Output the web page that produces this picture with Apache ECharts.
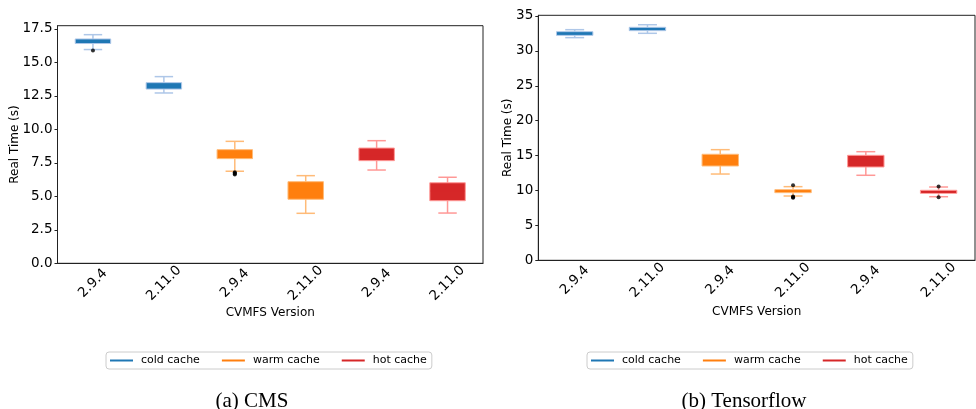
<!DOCTYPE html>
<html>
<head>
<meta charset="utf-8">
<script src="https://cdn.jsdelivr.net/npm/echarts@6/dist/echarts.min.js"></script>
<style>
html,body{margin:0;padding:0;background:#fff;}
#chart{width:976px;height:409px;}
</style>
</head>
<body>
<div id="chart"></div>
<script>
// ---- data ----
const categories = ['2.9.4', '2.11.0', '2.9.4', '2.11.0', '2.9.4', '2.11.0'];
const cacheNames = ['cold cache', 'warm cache', 'hot cache'];
const darkColors = ['#1f77b4', '#ff7f0e', '#d62728'];
const lightColors = ['#aec7e8', '#ffbb78', '#ff9896'];

// box stats: [min, Q1, median, Q3, max] for versions 2.9.4 and 2.11.0
const cmsCold = [[15.95, 16.40, 16.55, 16.74, 17.06], [12.71, 13.00, 13.20, 13.48, 13.93]];
const cmsWarm = [[6.87, 7.81, 8.15, 8.48, 9.10], [3.73, 4.78, 5.50, 6.09, 6.54]];
const cmsHot = [[6.96, 7.66, 8.10, 8.60, 9.15], [3.75, 4.67, 5.40, 6.01, 6.42]];
const cmsOutliers = [[0, 15.88], [2, 6.80], [2, 6.74], [2, 6.68], [2, 6.62]];

const tfCold = [[31.90, 32.23, 32.50, 32.75, 33.04], [32.52, 32.90, 33.10, 33.38, 33.75]];
const tfWarm = [[12.36, 13.51, 14.30, 15.19, 15.85], [9.21, 9.69, 9.90, 10.12, 10.55]];
const tfHot = [[12.18, 13.37, 14.20, 15.04, 15.56], [9.11, 9.60, 9.80, 10.03, 10.50]];
const tfOutliers = [[3, 10.75], [3, 9.15], [3, 9.05], [3, 8.95], [5, 10.58], [5, 9.02]];

const cmsTicks = [0, 2.5, 5, 7.5, 10, 12.5, 15, 17.5];
const tfTicks = [0, 5, 10, 15, 20, 25, 30, 35];
const cmsMax = 17.73;
const tfMax = 35.1;

// ---- helpers ----
function toItems(stats, offset) {
  return stats.map((s, i) => [offset + i].concat(s));
}
function renderBox(dark, light) {
  return function (params, api) {
    const x = api.value(0);
    const lo = api.coord([x, api.value(1)]);
    const q1 = api.coord([x, api.value(2)]);
    const md = api.coord([x, api.value(3)]);
    const q3 = api.coord([x, api.value(4)]);
    const hi = api.coord([x, api.value(5)]);
    const band = api.size([1, 0])[0];
    const bw = band * 0.5, cw = band * 0.26;
    const cx = lo[0];
    const ls = {stroke: light, lineWidth: 1.5};
    return {
      type: 'group',
      children: [
        {type: 'line', shape: {x1: cx, y1: lo[1], x2: cx, y2: q1[1]}, style: ls},
        {type: 'line', shape: {x1: cx, y1: q3[1], x2: cx, y2: hi[1]}, style: ls},
        {type: 'line', shape: {x1: cx - cw / 2, y1: lo[1], x2: cx + cw / 2, y2: lo[1]}, style: ls},
        {type: 'line', shape: {x1: cx - cw / 2, y1: hi[1], x2: cx + cw / 2, y2: hi[1]}, style: ls},
        {type: 'rect', shape: {x: cx - bw / 2, y: q3[1], width: bw, height: q1[1] - q3[1]},
          style: {fill: dark, stroke: light, lineWidth: 1}},
        {type: 'line', shape: {x1: cx - bw / 2 + 1, y1: md[1], x2: cx + bw / 2 - 1, y2: md[1]},
          style: {stroke: dark, lineWidth: 1.5}}
      ]
    };
  };
}

const fontSans = 'DejaVu Sans';
function makeX(gridIndex, nameGap) {
  return {
    type: 'category', gridIndex: gridIndex, data: categories,
    name: 'CVMFS Version', nameLocation: 'middle', nameGap: nameGap, nameMoveOverlap: false,
    nameTextStyle: {fontFamily: fontSans, fontSize: 12, color: '#000', verticalAlign: 'top'},
    axisLine: {lineStyle: {color: '#222', width: 1}},
    axisTick: {alignWithLabel: true, length: 3, lineStyle: {color: '#222'}},
    axisLabel: {rotate: 45, align: 'center', verticalAlign: 'middle', margin: 20,
      fontFamily: fontSans, fontSize: 13.5, color: '#000'},
    splitLine: {show: false}
  };
}
function makeY(gridIndex, max, ticks, fmt, nameGap) {
  return {
    type: 'value', gridIndex: gridIndex, min: 0, max: max,
    name: 'Real Time (s)', nameLocation: 'middle', nameGap: nameGap, nameMoveOverlap: false,
    nameTextStyle: {fontFamily: fontSans, fontSize: 12, color: '#000'},
    axisLine: {show: true, lineStyle: {color: '#222', width: 1}},
    axisTick: {show: true, length: 3, customValues: ticks, lineStyle: {color: '#222'}},
    axisLabel: {customValues: ticks, formatter: fmt, margin: 5,
      fontFamily: fontSans, fontSize: 13.5, color: '#000'},
    splitLine: {show: false}
  };
}

const series = [];
const cmsSets = [cmsCold, cmsWarm, cmsHot];
const tfSets = [tfCold, tfWarm, tfHot];
[cmsSets, tfSets].forEach((sets, g) => {
  sets.forEach((stats, k) => {
    series.push({
      type: 'custom', name: cacheNames[k], xAxisIndex: g, yAxisIndex: g,
      itemStyle: {color: darkColors[k]},
      encode: {x: 0, y: [1, 2, 3, 4, 5]},
      renderItem: renderBox(darkColors[k], lightColors[k]),
      data: toItems(stats, k * 2), z: 2
    });
  });
});
series.push({type: 'scatter', xAxisIndex: 0, yAxisIndex: 0, data: cmsOutliers,
  symbolSize: 4, itemStyle: {color: '#000'}, z: 5, silent: true});
series.push({type: 'scatter', xAxisIndex: 1, yAxisIndex: 1, data: tfOutliers,
  symbolSize: 4, itemStyle: {color: '#000'}, z: 5, silent: true});

function makeLegend(left) {
  return {
    left: left, top: 352, orient: 'horizontal',
    data: cacheNames, icon: 'rect', itemWidth: 23, itemHeight: 2, itemGap: 22,
    padding: [3, 5, 3, 4], borderColor: '#ccc', borderWidth: 1, borderRadius: 3,
    textStyle: {fontFamily: fontSans, fontSize: 11, color: '#000', padding: [0, 0, 0, 3]},
    selectedMode: false
  };
}

const chart = echarts.init(document.getElementById('chart'), null, {renderer: 'canvas'});
chart.setOption({
  animation: false,
  backgroundColor: '#fff',
  title: [
    {text: '(a) CMS', left: 247, top: 386, textAlign: 'center',
      textStyle: {fontFamily: 'Liberation Serif', fontSize: 21, fontWeight: 'normal', color: '#000'}},
    {text: '(b) Tensorflow', left: 739, top: 386, textAlign: 'center',
      textStyle: {fontFamily: 'Liberation Serif', fontSize: 21, fontWeight: 'normal', color: '#000'}}
  ],
  legend: [makeLegend(106), makeLegend(587)],
  grid: [
    {left: 57.5, right: 493, top: 25.7, bottom: 145.7, show: true, borderColor: '#222', borderWidth: 1, backgroundColor: 'transparent'},
    {left: 538.3, right: 1, top: 15.3, bottom: 148.7, show: true, borderColor: '#222', borderWidth: 1, backgroundColor: 'transparent'}
  ],
  xAxis: [makeX(0, 44), makeX(1, 46)],
  yAxis: [
    makeY(0, cmsMax, cmsTicks, v => v.toFixed(1), 37),
    makeY(1, tfMax, tfTicks, v => String(v), 24)
  ],
  series: series
});
</script>
</body>
</html>
